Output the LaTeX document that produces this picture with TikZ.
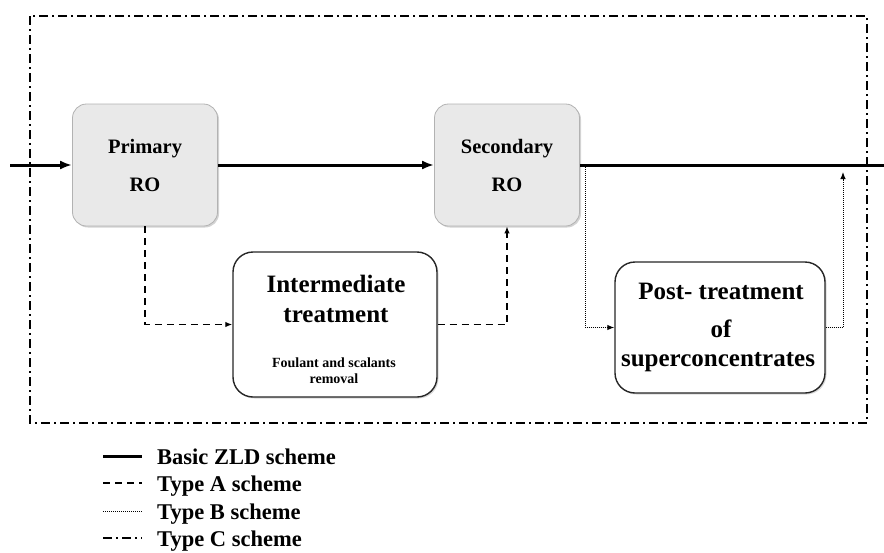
\documentclass[tikz,border=0pt]{standalone}
\usepackage{fontspec}
\setmainfont{Liberation Serif}
\usetikzlibrary{arrows.meta,shadows}

\begin{document}
\begin{tikzpicture}[x=1pt,y=-1pt,
	robox/.style={draw=gray!60,line width=0.8pt,fill=gray!17,rounded corners=14pt,
		minimum width=145pt,minimum height=122pt,align=center,
		font=\bfseries\fontsize{20.5}{38}\selectfont,
		drop shadow={opacity=0.35,shadow xshift=1.5pt,shadow yshift=-1.5pt}},
	trbox/.style={draw=black!85,line width=1.4pt,fill=white,rounded corners=20pt,
		drop shadow={opacity=0.3,shadow xshift=1.5pt,shadow yshift=-1.5pt}},
	bigtxt/.style={anchor=base,inner sep=0pt,font=\bfseries\fontsize{25}{28}\selectfont},
	smalltxt/.style={anchor=base,inner sep=0pt,font=\bfseries\fontsize{14}{16}\selectfont},
	legtxt/.style={anchor=base west,inner sep=0pt,font=\bfseries\fontsize{22.5}{24}\selectfont},
	basic/.style={line width=3pt},
	typeA/.style={line width=1.3pt,dash pattern=on 7pt off 5pt},
	typeB/.style={line width=1pt,dash pattern=on 1pt off 1pt},
	typeC/.style={line width=2.2pt,dash pattern=on 9pt off 4pt on 2pt off 4pt},
	bigtip/.style={-{Latex[length=12pt,width=9pt]}},
	smalltip/.style={-{Latex[length=7pt,width=5.5pt]}}]
	\useasboundingbox (0,0) rectangle (884,552);

	% system boundary
	\draw[typeC] (30,16) rectangle (867,423);

	% RO stages
	\node[robox] (pri) at (145,165) {Primary\\RO};
	\node[robox] (sec) at (507,165) {Secondary\\RO};

	% treatment boxes
	\node[trbox,minimum width=204pt,minimum height=145pt] (int) at (335,324.5) {};
	\node[bigtxt] (int-a) at (336,292) {Intermediate};
	\node[bigtxt] (int-b) at (336,322) {treatment};
	\node[smalltxt] (int-c) at (334,367) {Foulant and scalants};
	\node[smalltxt] (int-d) at (334,383) {removal};

	\node[trbox,minimum width=210pt,minimum height=131pt] (post) at (720,327.5) {};
	\node[bigtxt] (post-a) at (721,299) {Post- treatment};
	\node[bigtxt] (post-b) at (721,337) {of};
	\node[bigtxt] (post-c) at (718,366) {superconcentrates};

	% basic ZLD line
	\coordinate (in) at (10,165);
	\coordinate (out) at (884,165);
	\draw[basic,bigtip] (in) -- (pri);
	\draw[basic,bigtip] (pri) -- (sec);
	\draw[basic] (sec) -- (out);

	% type A
	\draw[typeA,smalltip] (pri.south) |- (int.west);
	\draw[typeA,smalltip] (int.east) -| (sec.south);

	% type B
	\coordinate (b1) at (585,165);
	\coordinate (b2) at (843,172);
	\draw[typeB,smalltip] (b1) |- (post.west);
	\draw[typeB,smalltip] (post.east) -| (b2);

	% legend
	\foreach \sty/\txt/\yy [count=\i] in {basic/Basic ZLD scheme/456,typeA/Type A scheme/483,typeB/Type B scheme/511,typeC/Type C scheme/538}{
		\draw[line width=1.4pt,\sty] (103,\yy) -- (142,\yy);
		\node[legtxt] (leg\i) at (157,\yy+8) {\txt};
	}
\end{tikzpicture}
\end{document}
